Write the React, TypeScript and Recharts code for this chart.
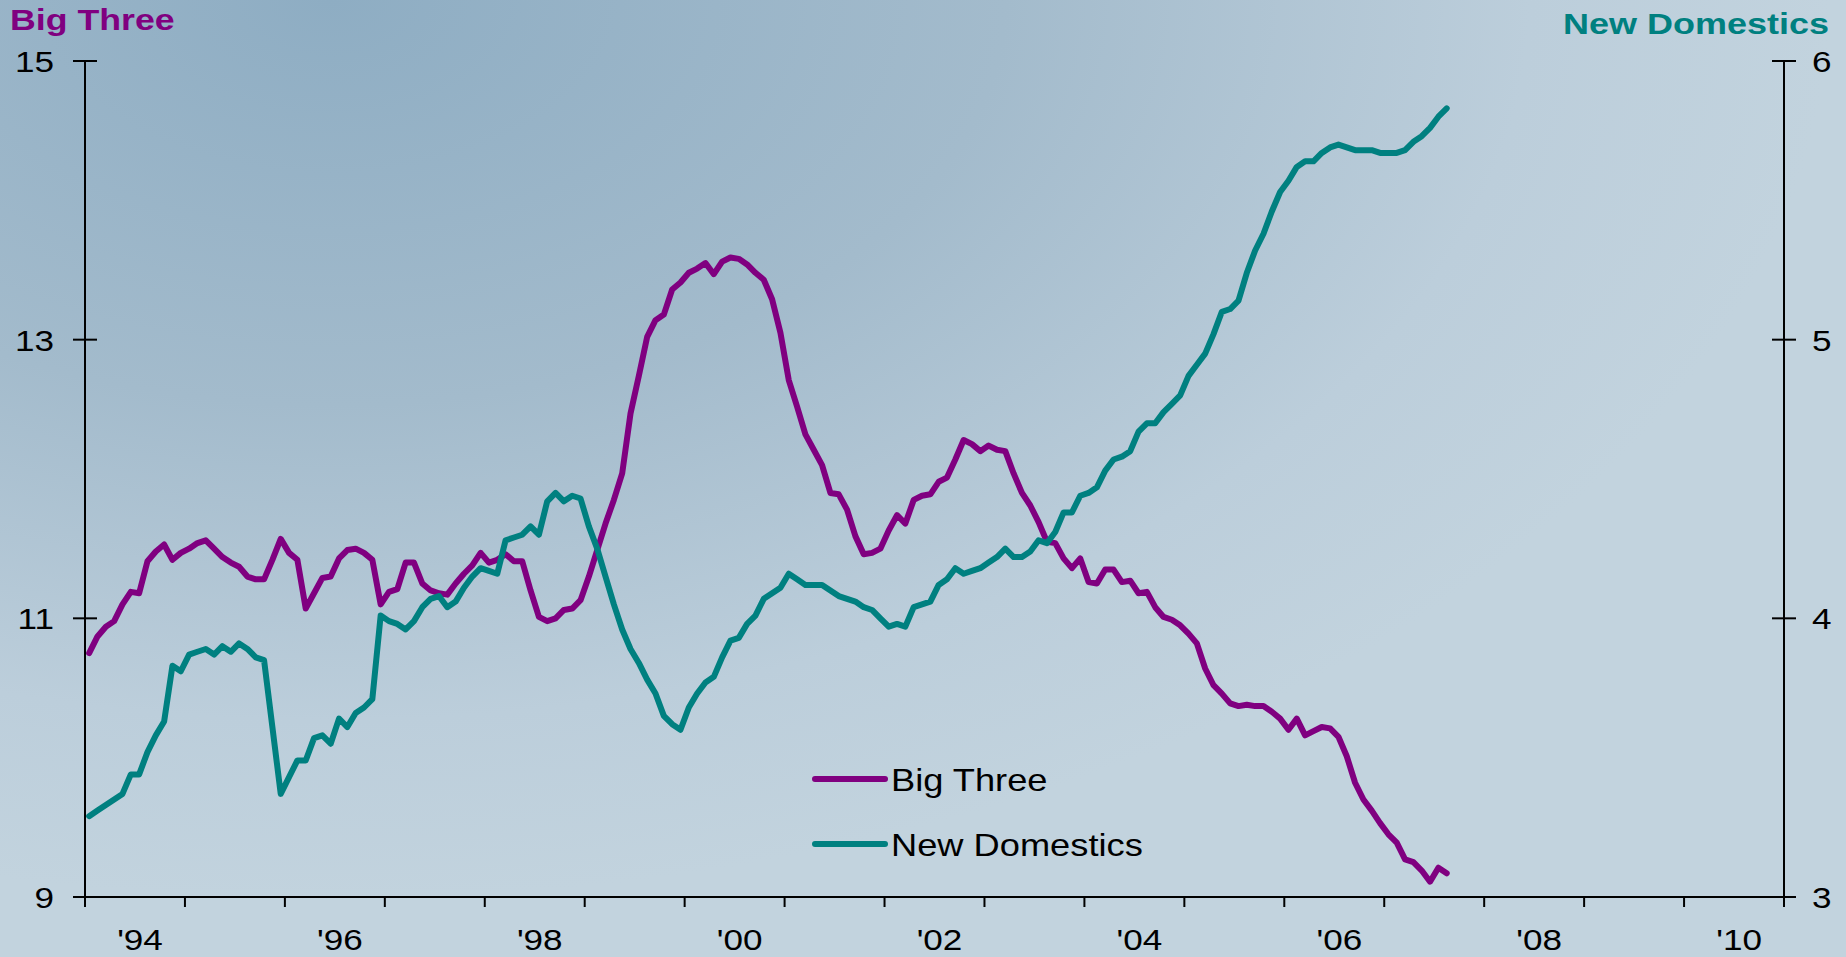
import { LineChart, Line, XAxis, YAxis, Legend } from 'recharts';

// monthly, Jan 1994 .. Aug 2007
const FIRST_YEAR = 1994;

const bigThree = [
  10.75, 10.87, 10.94, 10.98, 11.10, 11.19, 11.18, 11.41, 11.48, 11.53,
  11.42, 11.47, 11.50, 11.54, 11.56, 11.50, 11.44, 11.40, 11.37, 11.30,
  11.28, 11.28, 11.42, 11.57, 11.47, 11.42, 11.07, 11.18, 11.29, 11.30,
  11.43, 11.49, 11.50, 11.47, 11.42, 11.10, 11.19, 11.21, 11.40, 11.40,
  11.25, 11.20, 11.18, 11.17, 11.25, 11.32, 11.38, 11.47, 11.40, 11.42,
  11.46, 11.41, 11.41, 11.20, 11.01, 10.98, 11.00, 11.06, 11.07, 11.13,
  11.30, 11.49, 11.68, 11.85, 12.04, 12.47, 12.74, 13.02, 13.14, 13.18,
  13.36, 13.41, 13.48, 13.51, 13.55, 13.47, 13.56, 13.59, 13.58, 13.54,
  13.48, 13.43, 13.29, 13.05, 12.71, 12.52, 12.32, 12.21, 12.10, 11.90,
  11.89, 11.78, 11.59, 11.46, 11.47, 11.50, 11.63, 11.74, 11.68, 11.85,
  11.88, 11.89, 11.98, 12.01, 12.14, 12.28, 12.25, 12.20, 12.24, 12.21,
  12.20, 12.04, 11.90, 11.81, 11.69, 11.55, 11.54, 11.43, 11.36, 11.43,
  11.26, 11.25, 11.35, 11.35, 11.26, 11.27, 11.18, 11.19, 11.08, 11.01,
  10.99, 10.95, 10.89, 10.82, 10.64, 10.52, 10.46, 10.39, 10.37, 10.38,
  10.37, 10.37, 10.33, 10.28, 10.20, 10.28, 10.16, 10.19, 10.22, 10.21,
  10.15, 10.01, 9.82, 9.70, 9.62, 9.53, 9.45, 9.39, 9.27, 9.25,
  9.19, 9.11, 9.21, 9.17,
];

const newDomestics = [
  3.29, 3.31, 3.33, 3.35, 3.37, 3.44, 3.44, 3.52, 3.58, 3.63,
  3.83, 3.81, 3.87, 3.88, 3.89, 3.87, 3.90, 3.88, 3.91, 3.89,
  3.86, 3.85, 3.61, 3.37, 3.43, 3.49, 3.49, 3.57, 3.58, 3.55,
  3.64, 3.61, 3.66, 3.68, 3.71, 4.01, 3.99, 3.98, 3.96, 3.99,
  4.04, 4.07, 4.08, 4.04, 4.06, 4.11, 4.15, 4.18, 4.17, 4.16,
  4.28, 4.29, 4.30, 4.33, 4.30, 4.42, 4.45, 4.42, 4.44, 4.43,
  4.33, 4.25, 4.15, 4.05, 3.96, 3.89, 3.84, 3.78, 3.73, 3.65,
  3.62, 3.60, 3.68, 3.73, 3.77, 3.79, 3.86, 3.92, 3.93, 3.98,
  4.01, 4.07, 4.09, 4.11, 4.16, 4.14, 4.12, 4.12, 4.12, 4.10,
  4.08, 4.07, 4.06, 4.04, 4.03, 4.00, 3.97, 3.98, 3.97, 4.04,
  4.05, 4.06, 4.12, 4.14, 4.18, 4.16, 4.17, 4.18, 4.20, 4.22,
  4.25, 4.22, 4.22, 4.24, 4.28, 4.27, 4.31, 4.38, 4.38, 4.44,
  4.45, 4.47, 4.53, 4.57, 4.58, 4.60, 4.67, 4.70, 4.70, 4.74,
  4.77, 4.80, 4.87, 4.91, 4.95, 5.02, 5.10, 5.11, 5.14, 5.24,
  5.32, 5.38, 5.46, 5.53, 5.57, 5.62, 5.64, 5.64, 5.67, 5.69,
  5.70, 5.69, 5.68, 5.68, 5.68, 5.67, 5.67, 5.67, 5.68, 5.71,
  5.73, 5.76, 5.80, 5.83,
];

const yearTicks = [
  1994, 1995, 1996, 1997, 1998, 1999, 2000, 2001, 2002,
  2003, 2004, 2005, 2006, 2007, 2008, 2009, 2010, 2011,
];
const yearLabels = ["'94", "'96", "'98", "'00", "'02", "'04", "'06", "'08", "'10"];
const leftTicks = [9, 11, 13, 15];
const rightTicks = [3, 4, 5, 6];

const PURPLE = '#800080';
const TEAL = '#008080';
const FONT = '"Liberation Sans", Arial, sans-serif';

const data = bigThree.map((v, i) => ({
  t: FIRST_YEAR + (i + 0.5) / 12,
  bigThree: v,
  newDomestics: newDomestics[i],
}));

function WideText({ x, y, anchor, size = 30, weight = 400, fill = '#000', stretch = 1.17, children }: any) {
  return (
    <text
      x={0}
      y={0}
      transform={`translate(${x} ${y}) scale(${stretch} 1)`}
      textAnchor={anchor}
      fontFamily={FONT}
      fontSize={size}
      fontWeight={weight}
      fill={fill}
    >
      {children}
    </text>
  );
}

function LeftTick({ x, y, payload }: any) {
  return (
    <g>
      <line x1={x - 12} x2={x + 12} y1={y} y2={y} stroke="#000" strokeWidth={2} />
      <WideText x={x - 31} y={y + 11} anchor="end">{payload.value}</WideText>
    </g>
  );
}

function RightTick({ x, y, payload }: any) {
  return (
    <g>
      <line x1={x - 12} x2={x + 12} y1={y} y2={y} stroke="#000" strokeWidth={2} />
      <WideText x={x + 28} y={y + 11} anchor="start">{payload.value}</WideText>
    </g>
  );
}

function YearTick({ x, y, payload }: any) {
  const k = (Math.round(payload.value) - FIRST_YEAR) / 2;
  const label = Number.isInteger(k) ? yearLabels[k] : undefined;
  return (
    <g>
      <line x1={x} x2={x} y1={y} y2={y + 10} stroke="#000" strokeWidth={2} />
      {label && <WideText x={x + 55} y={y + 53} anchor="middle">{label}</WideText>}
    </g>
  );
}

function LegendBox({ payload }: any) {
  return (
    <svg width={360} height={120}>
      {(payload || []).map((p: any, i: number) => (
        <g key={p.value} transform={`translate(0 ${i * 65})`}>
          <line x1={10} x2={80} y1={29} y2={29} stroke={p.color} strokeWidth={6} strokeLinecap="round" />
          <WideText x={86} y={41} anchor="start" size={31}>{p.value}</WideText>
        </g>
      ))}
    </svg>
  );
}

export default function App() {
  return (
    <div
      style={{
        position: 'relative',
        width: 1846,
        height: 957,
        background:
          'radial-gradient(ellipse 1500px 900px at 330px 0px, #8eadc3 0%, #a3bbcc 45%, #bccedb 80%, #c2d3de 100%)',
      }}
    >
      <style>{`body { margin: 0; }`}</style>
      <svg width={1846} height={70} style={{ position: 'absolute', left: 0, top: 0 }}>
        <WideText x={10} y={30} anchor="start" weight={700} fill={PURPLE} stretch={1.19}>Big Three</WideText>
        <WideText x={1829} y={34} anchor="end" weight={700} fill={TEAL} stretch={1.2}>New Domestics</WideText>
      </svg>
      <LineChart
        width={1846}
        height={957}
        data={data}
        margin={{ top: 61, right: 0, bottom: 0, left: 0 }}
        style={{ position: 'absolute', left: 0, top: 0 }}
      >
        <XAxis
          dataKey="t"
          type="number"
          domain={[1994, 2011]}
          ticks={yearTicks}
          interval={0}
          height={60}
          tickSize={0}
          tickMargin={0}
          tickLine={false}
          axisLine={{ stroke: '#000', strokeWidth: 2 }}
          tick={YearTick}
        />
        <YAxis
          yAxisId="left"
          domain={[9, 15]}
          ticks={leftTicks}
          interval={0}
          width={85}
          tickSize={0}
          tickMargin={0}
          tickLine={false}
          axisLine={{ stroke: '#000', strokeWidth: 2 }}
          tick={LeftTick}
        />
        <YAxis
          yAxisId="right"
          orientation="right"
          domain={[3, 6]}
          ticks={rightTicks}
          interval={0}
          width={62}
          tickSize={0}
          tickMargin={0}
          tickLine={false}
          axisLine={{ stroke: '#000', strokeWidth: 2 }}
          tick={RightTick}
        />
        <Legend
          layout="horizontal"
          verticalAlign="middle"
          align="center"
          content={LegendBox}
          wrapperStyle={{ position: 'absolute', left: 805, top: 750, width: 360, height: 120 }}
        />
        <Line
          yAxisId="left"
          type="linear"
          dataKey="bigThree"
          name="Big Three"
          stroke={PURPLE}
          strokeWidth={6}
          strokeLinejoin="round"
          strokeLinecap="round"
          dot={false}
          activeDot={false}
          isAnimationActive={false}
        />
        <Line
          yAxisId="right"
          type="linear"
          dataKey="newDomestics"
          name="New Domestics"
          stroke={TEAL}
          strokeWidth={6}
          strokeLinejoin="round"
          strokeLinecap="round"
          dot={false}
          activeDot={false}
          isAnimationActive={false}
        />
      </LineChart>
    </div>
  );
}
